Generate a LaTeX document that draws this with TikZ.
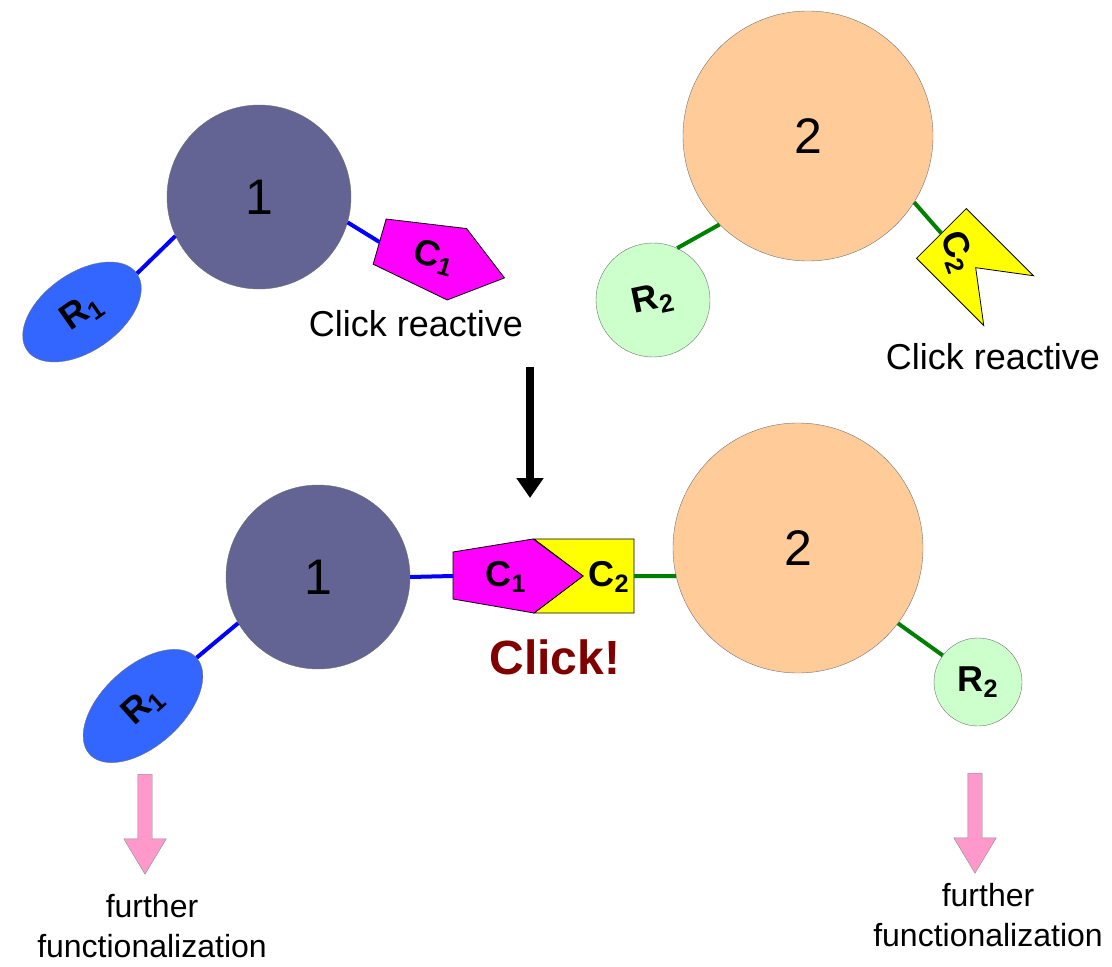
\documentclass[tikz,border=0pt]{standalone}
\usepackage{fontspec}
\setmainfont{Liberation Sans}
\usetikzlibrary{shapes.geometric,shapes.arrows,arrows.meta}

\definecolor{slate}{RGB}{99,99,148}
\definecolor{rblue}{RGB}{51,102,255}
\definecolor{peach}{RGB}{255,204,153}
\definecolor{mint}{RGB}{204,255,204}
\definecolor{linkblue}{RGB}{0,0,255}
\definecolor{bondgreen}{RGB}{0,128,0}
\definecolor{pentmag}{RGB}{255,0,255}
\definecolor{notchyel}{RGB}{255,255,0}
\definecolor{clickred}{RGB}{128,0,0}
\definecolor{pinkarrow}{RGB}{255,153,204}

\begin{document}
\begin{tikzpicture}[x=0.5pt,y=-0.5pt,
  core/.style={circle,draw=black!55,very thin,inner sep=0pt,font=\fontsize{25}{30}\selectfont},
  rgroup/.style={draw=black!55,very thin,inner sep=0pt,font=\fontsize{18}{20}\selectfont\bfseries},
  tag/.style={font=\fontsize{18}{20}\selectfont\bfseries},
  bondone/.style={draw=linkblue,line width=2pt},
  bondtwo/.style={draw=bondgreen,line width=2pt},
  cone/.style={fill=pentmag,draw=black,thin,line join=miter},
  ctwo/.style={fill=notchyel,draw=black,thin,line join=miter},
  note/.style={font=\fontsize{18}{20}\selectfont,align=center},
  further/.style={single arrow,rotate=-90,anchor=tail,fill=pinkarrow,draw=black!45,very thin,
    inner xsep=0pt,inner ysep=3.5pt,single arrow head extend=7pt,single arrow tip angle=62,minimum height=50pt}]
\useasboundingbox (0,0) rectangle (1112,967);

\node[core,fill=slate,minimum size=92pt] (one) at (259,197) {1};
\node[rgroup,ellipse,fill=rblue,rotate=35,minimum width=67pt,minimum height=39pt] (rone) at (82,312) {R\textsubscript{1}};
\begin{scope}[shift={(442,260)},rotate=-16]
\draw[cone] (-65,-24) -- (15,-37) -- (65,0) -- (16,37) -- (-65,23) -- cycle;
\coordinate (conein) at (-65,0);
\node[tag,rotate=-16] (conelabel) at (-8,0) {C\textsubscript{1}};
\end{scope}
\draw[bondone] (one.205) -- (rone.east);
\draw[bondone] (one.-16) -- (conein);
\node[note] (reactone) at (416,324) {Click reactive};

\node[core,fill=peach,minimum size=125pt] (two) at (808,136) {2};
\node[rgroup,circle,fill=mint,minimum size=57pt,rotate=12] (rtwo) at (653,300) {R\textsubscript{2}};
\begin{scope}[shift={(975,267)},rotate=135,scale=0.95]
\draw[ctwo] (-50,-37) -- (50,-37) -- (50,37) -- (-50,37) -- (-1,0) -- cycle;
\coordinate (ctwoin) at (50,0);
\end{scope}
\node[tag,rotate=-70] (ctwolabel) at (957,252) {C\textsubscript{2}};
\draw[bondtwo] (two.225) -- (rtwo.53);
\draw[bondtwo] (two.-32) -- (ctwoin);
\node[note] (reacttwo) at (993,357) {Click reactive};

\coordinate (reacttop) at (530,367);
\coordinate (reactend) at (530,498);
\draw[line width=4pt,-{Triangle[width=13pt,length=10pt]}] (reacttop) -- (reactend);

\node[core,fill=slate,minimum size=92pt] (onebot) at (318,577) {1};
\node[core,fill=peach,minimum size=125pt] (twobot) at (798,548) {2};
\node[rgroup,ellipse,fill=rblue,rotate=42,minimum width=72pt,minimum height=40pt] (ronebot) at (143,706) {R\textsubscript{1}};
\node[rgroup,circle,fill=mint,minimum size=44pt] (rtwobot) at (978,682) {R\textsubscript{2}};
\begin{scope}[shift={(584,576)}]
\draw[ctwo] (-50,-37) -- (50,-37) -- (50,37) -- (-50,37) -- (-1,0) -- cycle;
\coordinate (ctwobot) at (50,0);
\end{scope}
\begin{scope}[shift={(518,576)}]
\draw[cone] (-65,-24) -- (15,-37) -- (65,0) -- (16,37) -- (-65,23) -- cycle;
\coordinate (conebot) at (-65,0);
\end{scope}
\node[tag] (conebotlabel) at (506,577) {C\textsubscript{1}};
\node[tag] (ctwobotlabel) at (609,577) {C\textsubscript{2}};
\draw[bondone] (onebot.east) -- (conebot);
\draw[bondtwo] (twobot.193) -- (ctwobot);
\draw[bondone] (onebot.210) -- (ronebot.east);
\draw[bondtwo] (twobot.-37) -- (rtwobot.143);
\node[font=\fontsize{24}{28}\selectfont\bfseries,text=clickred] (clicked) at (555,657) {Click!};

\node[further] (furtherone) at (145,774) {};
\node[further] (furthertwo) at (975,773) {};
\node[note,font=\fontsize{16}{20}\selectfont] (fnone) at (152,926) {further\\functionalization};
\node[note,font=\fontsize{16}{20}\selectfont] (fntwo) at (988,915) {further\\functionalization};
\end{tikzpicture}
\end{document}
